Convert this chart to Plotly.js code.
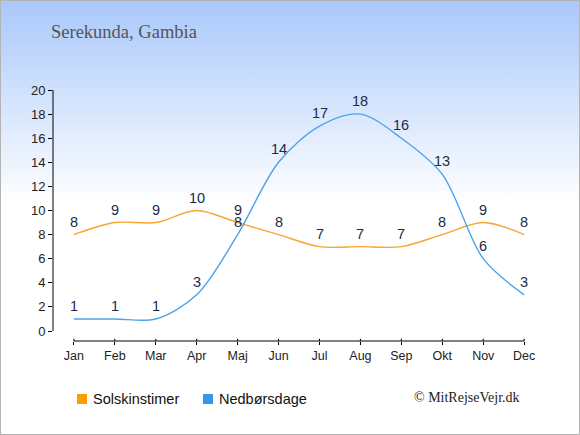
<!DOCTYPE html>
<html>
<head>
<meta charset="utf-8">
<script src="https://cdn.plot.ly/plotly-3.0.1.min.js"></script>
<style>
html,body{margin:0;padding:0;}
#wrap{width:578px;height:433px;border:1px solid #b4b4b4;background:linear-gradient(to bottom,#a9c8fb 0%,#dce9fd 28%,#ffffff 47%,#ffffff 100%);overflow:hidden;}
#chart{width:578px;height:433px;}
</style>
</head>
<body>
<div id="wrap"><div id="chart"></div></div>
<script>
const months = ["Jan","Feb","Mar","Apr","Maj","Jun","Jul","Aug","Sep","Okt","Nov","Dec"];
const sunHours = [8,9,9,10,9,8,7,7,7,8,9,8];
const rainDays = [1,1,1,3,8,14,17,18,16,13,6,3];
const seriesNames = ["Solskinstimer","Nedbørsdage"];
const titleText = "Serekunda, Gambia";
const creditText = "© MitRejseVejr.dk";

const idx = months.map((m,i)=>i);
const sunColor = "#f8a534";
const rainColor = "#4da3ea";

const traces = [
  {x: idx, y: sunHours, mode:"lines", line:{color:sunColor,width:1.4,shape:"spline",smoothing:0.9}, hoverinfo:"skip", showlegend:false},
  {x: idx, y: rainDays, mode:"lines", line:{color:rainColor,width:1.4,shape:"spline",smoothing:0.9}, hoverinfo:"skip", showlegend:false}
];

const labelFont = {family:"Liberation Sans, Arial, sans-serif", size:14.5, color:"#1c2b48"};
const annotations = [];
[sunHours, rainDays].forEach(arr=>{
  arr.forEach((v,i)=>{
    annotations.push({x:i, y:v, xref:"x", yref:"y", text:String(v), showarrow:false, yshift:13, font:labelFont});
  });
});
annotations.push({xref:"paper", yref:"paper", x:-0.0085, y:1.231, xanchor:"left", yanchor:"middle", text:titleText, showarrow:false, font:{family:"Liberation Serif, Times New Roman, serif", size:18.5, color:"#555555"}});
annotations.push({xref:"paper", yref:"paper", x:0.0805, y:-0.231, xanchor:"left", yanchor:"middle", text:seriesNames[0], showarrow:false, font:{family:"Liberation Sans, Arial, sans-serif", size:14.5, color:"#111111"}});
annotations.push({xref:"paper", yref:"paper", x:0.3475, y:-0.231, xanchor:"left", yanchor:"middle", text:seriesNames[1], showarrow:false, font:{family:"Liberation Sans, Arial, sans-serif", size:14.5, color:"#111111"}});
annotations.push({xref:"paper", yref:"paper", x:0.7605, y:-0.227, xanchor:"left", yanchor:"middle", text:creditText, showarrow:false, font:{family:"Liberation Serif, Times New Roman, serif", size:14, color:"#222222"}});

const shapes = [
  {type:"line", xref:"x", yref:"paper", x0:0, x1:11, y0:0, y1:0, line:{color:"#000",width:1}},
  {type:"line", xref:"paper", yref:"y", x0:0, x1:0, y0:0, y1:20, line:{color:"#000",width:1}},
  {type:"rect", xref:"paper", yref:"paper", x0:0.0508, x1:0.072, y0:-0.251, y1:-0.211, fillcolor:"#ff9c00", line:{width:0}},
  {type:"rect", xref:"paper", yref:"paper", x0:0.3178, x1:0.339, y0:-0.251, y1:-0.211, fillcolor:"#3398ea", line:{width:0}}
];
idx.forEach(i=>{
  shapes.push({type:"line", xref:"x", yref:"paper", x0:i, x1:i, y0:0, y1:0.009, line:{color:"#000",width:1}});
});

const layout = {
  width:578, height:433,
  margin:{l:52, r:54, t:89, b:93, pad:0},
  paper_bgcolor:"rgba(0,0,0,0)", plot_bgcolor:"rgba(0,0,0,0)",
  showlegend:false,
  xaxis:{range:[-0.51,11.02], tickvals:idx, ticktext:months, ticks:"outside", ticklen:3, tickcolor:"#000", showgrid:false, zeroline:false, showline:false, fixedrange:true,
         tickfont:{family:"Liberation Sans, Arial, sans-serif", size:12.5, color:"#222"}},
  yaxis:{range:[-0.83,20], dtick:2, tick0:0, ticks:"outside", ticklen:4, tickcolor:"#000", showgrid:false, zeroline:false, showline:false, fixedrange:true,
         tickfont:{family:"Liberation Sans, Arial, sans-serif", size:13, color:"#222"}},
  annotations: annotations,
  shapes: shapes
};
Plotly.newPlot("chart", traces, layout, {displayModeBar:false, staticPlot:true});
</script>
</body>
</html>
